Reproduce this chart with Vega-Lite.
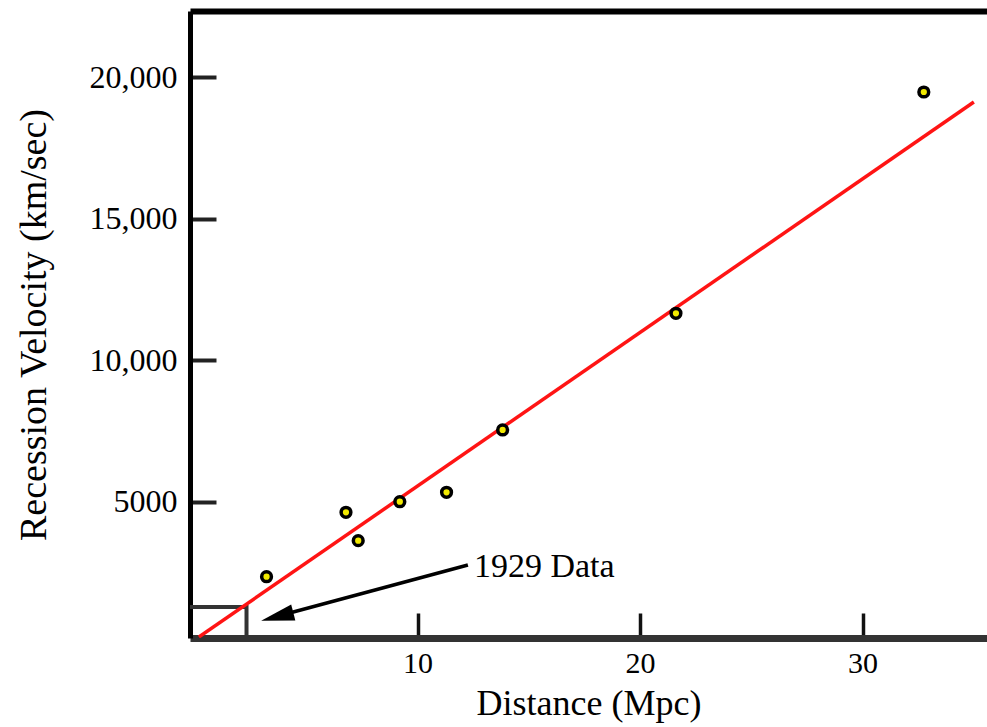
{
  "$schema": "https://vega.github.io/schema/vega-lite/v6.json",
  "width": 797,
  "height": 627,
  "autosize": "none",
  "padding": {"left": 190, "top": 11, "right": 0, "bottom": 89},
  "background": "white",
  "config": {"view": {"stroke": null}, "font": "Liberation Serif"},
  "datasets": {
    "galaxies": [
      {"d": 3.21, "v": 2352},
      {"d": 6.78, "v": 4627},
      {"d": 7.33, "v": 3624},
      {"d": 9.2, "v": 5001},
      {"d": 11.3, "v": 5333},
      {"d": 13.82, "v": 7534},
      {"d": 21.61, "v": 11656},
      {"d": 32.75, "v": 19472}
    ],
    "fit": [{"d": 0.17, "v": 223}, {"d": 35.0, "v": 19119}],
    "box": [{"d0": -1, "d1": 2.31, "v0": 0, "v1": 1282}],
    "arrow": [{"d": 12.26, "v": 2765}, {"d": 3.41, "v": 894}],
    "head": [{"d": 3.69, "v": 943}],
    "note": [{"d": 12.53, "v": 2342, "t": "1929 Data"}]
  },
  "resolve": {"axis": {"x": "independent", "y": "independent"}},
  "layer": [
    {
      "data": {"name": "box"},
      "mark": {"type": "rect", "fill": null, "stroke": "#333", "strokeWidth": 4, "clip": true},
      "encoding": {
        "x": {"field": "d0", "type": "quantitative", "scale": {"domain": [-0.23, 35.59], "nice": false, "zero": false},
          "axis": {"orient": "top", "labels": false, "ticks": false, "title": null, "grid": false, "domainColor": "#000", "domainWidth": 6}},
        "x2": {"field": "d1"},
        "y": {"field": "v0", "type": "quantitative", "scale": {"domain": [187, 22333], "nice": false, "zero": false},
          "axis": {"orient": "right", "offset": -797, "values": [5000, 10000, 15000, 20000], "labels": false, "domain": false, "grid": false, "title": null,
            "ticks": true, "tickSize": 26, "tickWidth": 4, "tickColor": "#222"}},
        "y2": {"field": "v1"}
      }
    },
    {
      "data": {"name": "arrow"},
      "mark": {"type": "line", "color": "#000", "strokeWidth": 3.5},
      "encoding": {
        "x": {"field": "d", "type": "quantitative",
          "axis": {"orient": "top", "offset": -627, "values": [10, 20, 30], "labels": false, "domain": false, "grid": false, "title": null,
            "ticks": true, "tickSize": 25, "tickWidth": 3.5, "tickColor": "#111"}},
        "y": {"field": "v", "type": "quantitative", "axis": null}
      }
    },
    {
      "data": {"name": "head"},
      "mark": {"type": "point", "shape": "M -1 0 L 1 -0.5 L 1 0.5 Z", "size": 1100, "angle": 345.5, "filled": true, "color": "#000", "opacity": 1, "strokeWidth": 0},
      "encoding": {
        "x": {"field": "d", "type": "quantitative", "axis": null},
        "y": {"field": "v", "type": "quantitative", "axis": null}
      }
    },
    {
      "data": {"name": "note"},
      "mark": {"type": "text", "align": "left", "baseline": "alphabetic", "fontSize": 34, "font": "Liberation Serif", "color": "#000"},
      "encoding": {
        "x": {"field": "d", "type": "quantitative", "axis": null},
        "y": {"field": "v", "type": "quantitative", "axis": null},
        "text": {"field": "t"}
      }
    },
    {
      "data": {"name": "fit"},
      "mark": {"type": "line", "color": "#ff1414", "strokeWidth": 3.5, "clip": true},
      "encoding": {
        "x": {"field": "d", "type": "quantitative", "axis": null},
        "y": {"field": "v", "type": "quantitative", "axis": null}
      }
    },
    {
      "data": {"name": "galaxies"},
      "mark": {"type": "point", "shape": "circle", "size": 95, "filled": true, "fill": "#f2ea00", "stroke": "#000", "strokeWidth": 3.5, "opacity": 1},
      "encoding": {
        "x": {
          "field": "d", "type": "quantitative",
          "axis": {
            "orient": "bottom", "values": [10, 20, 30], "grid": false,
            "domainColor": "#333", "domainWidth": 7, "ticks": false,
            "labelPadding": 10, "labelFontSize": 30, "labelFont": "Liberation Serif", "labelColor": "#000",
            "title": "Distance (Mpc)", "titleFontSize": 36, "titleFont": "Liberation Serif", "titleFontWeight": "normal", "titleColor": "#000", "titlePadding": 8
          }
        },
        "y": {
          "field": "v", "type": "quantitative",
          "axis": {
            "orient": "left", "values": [5000, 10000, 15000, 20000], "grid": false,
            "labelExpr": "datum.value == 5000 ? '5000' : format(datum.value, ',')",
            "domainColor": "#000", "domainWidth": 5, "ticks": false,
            "labelPadding": 13, "labelFontSize": 32, "labelFont": "Liberation Serif", "labelColor": "#000",
            "title": "Recession Velocity (km/sec)", "titleFontSize": 38, "titleFont": "Liberation Serif", "titleFontWeight": "normal", "titleColor": "#000", "titlePadding": 36
          }
        }
      }
    }
  ]
}
